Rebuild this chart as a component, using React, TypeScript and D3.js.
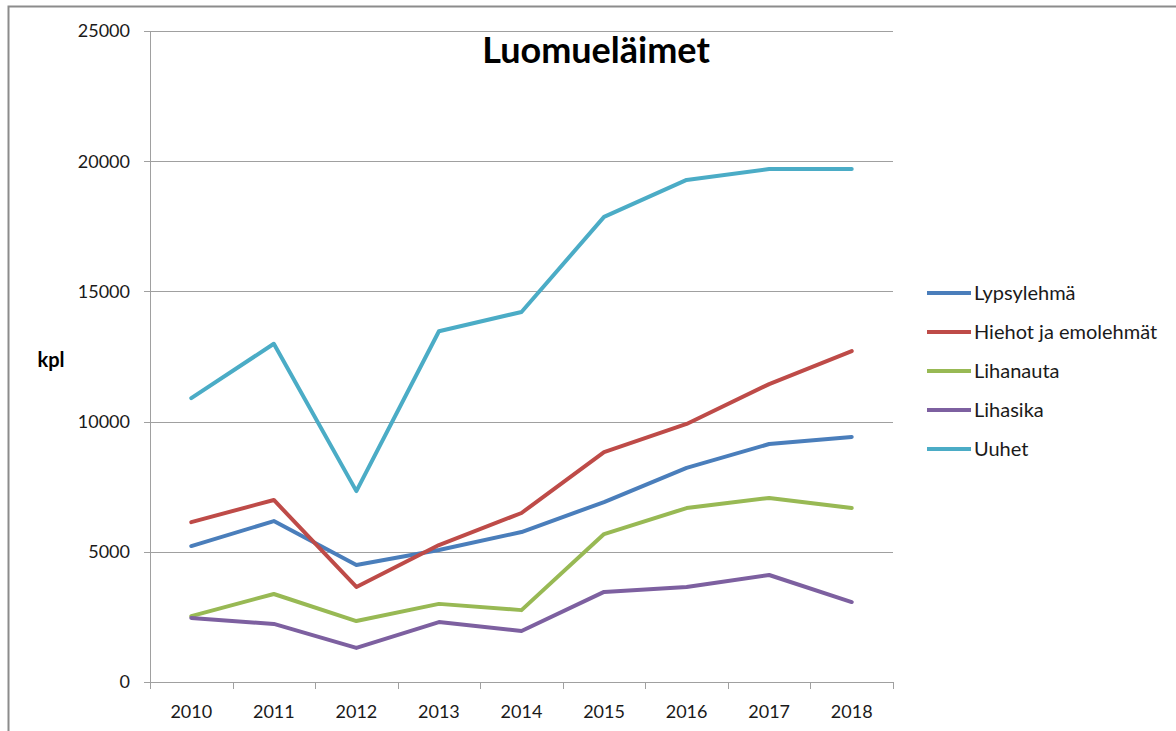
import React from "react";
import * as d3 from "d3";

const years = ["2010", "2011", "2012", "2013", "2014", "2015", "2016", "2017", "2018"];
const lypsylehma = [5220, 6180, 4490, 5070, 5760, 6910, 8220, 9140, 9410];
const hiehot = [6140, 6990, 3650, 5260, 6490, 8830, 9910, 11440, 12710];
const lihanauta = [2530, 3380, 2340, 3000, 2760, 5680, 6680, 7070, 6680];
const lihasika = [2460, 2230, 1310, 2300, 1960, 3460, 3650, 4110, 3070];
const uuhet = [10900, 12990, 7330, 13470, 14210, 17860, 19280, 19700, 19700];
const yTicks = [0, 5000, 10000, 15000, 20000, 25000];

const series = [
  { name: "Lypsylehmä", values: lypsylehma, color: "#4A7EBB" },
  { name: "Hiehot ja emolehmät", values: hiehot, color: "#BE4B48" },
  { name: "Lihanauta", values: lihanauta, color: "#98B954" },
  { name: "Lihasika", values: lihasika, color: "#7D60A0" },
  { name: "Uuhet", values: uuhet, color: "#4BACC6" },
];

const FONT = "Lato, 'Open Sans', sans-serif";

export default function App() {
  const W = 1176, H = 731;
  const left = 150, right = 893, top = 31, bottom = 682;
  const x = d3.scaleBand<string>().domain(years).range([left, right]);
  const y = d3.scaleLinear().domain([0, 25000]).range([bottom, top]);
  const line = d3
    .line<number>()
    .x((_, i) => (x(years[i]) as number) + x.bandwidth() / 2)
    .y((d) => y(d));
  const boundaries = years.map((yr) => x(yr) as number).concat([right]);

  return (
    <svg
      width={W}
      height={H}
      style={{ position: "absolute", left: 0, top: 0, background: "#fff" }}
    >
      <rect x={0} y={0} width={W} height={H} fill="#fff" />
      <rect x={8.5} y={6.5} width={W + 20} height={H + 20} fill="none" stroke="#8c8c8c" strokeWidth={2} />
      {yTicks.map((t) => (
        <g key={t}>
          <line x1={144} x2={right} y1={Math.round(y(t)) + 0.5} y2={Math.round(y(t)) + 0.5} stroke="#a0a0a0" strokeWidth={1} />
          <text x={130} y={y(t)} dy="0.35em" textAnchor="end" fontFamily={FONT} fontSize={18} fill="#1a1a1a">
            {t}
          </text>
        </g>
      ))}
      <line x1={left + 0.5} x2={left + 0.5} y1={top} y2={bottom} stroke="#a0a0a0" />
      {boundaries.map((b, i) => (
        <line key={i} x1={Math.round(b) + 0.5} x2={Math.round(b) + 0.5} y1={bottom} y2={bottom + 7} stroke="#a0a0a0" />
      ))}
      {years.map((yr) => (
        <text
          key={yr}
          x={(x(yr) as number) + x.bandwidth() / 2}
          y={712}
          dy="0.35em"
          textAnchor="middle"
          fontFamily={FONT}
          fontSize={18}
          fill="#1a1a1a"
        >
          {yr}
        </text>
      ))}
      {series.map((s) => (
        <path
          key={s.name}
          d={line(s.values) as string}
          fill="none"
          stroke={s.color}
          strokeWidth={4}
          strokeLinejoin="round"
          strokeLinecap="round"
        />
      ))}
      <text x={596} y={50} dy="0.35em" textAnchor="middle" fontFamily={FONT} fontWeight="bold" fontSize={36} fill="#000">
        Luomueläimet
      </text>
      <text x={51} y={360} dy="0.35em" textAnchor="middle" fontFamily={FONT} fontWeight="bold" fontSize={20} fill="#000">
        kpl
      </text>
      {series.map((s, i) => {
        const ly = 293 + i * 39;
        return (
          <g key={s.name}>
            <line x1={927} x2={971} y1={ly} y2={ly} stroke={s.color} strokeWidth={4} />
            <text x={974} y={ly} dy="0.35em" fontFamily={FONT} fontSize={20} fill="#1a1a1a">
              {s.name}
            </text>
          </g>
        );
      })}
    </svg>
  );
}
